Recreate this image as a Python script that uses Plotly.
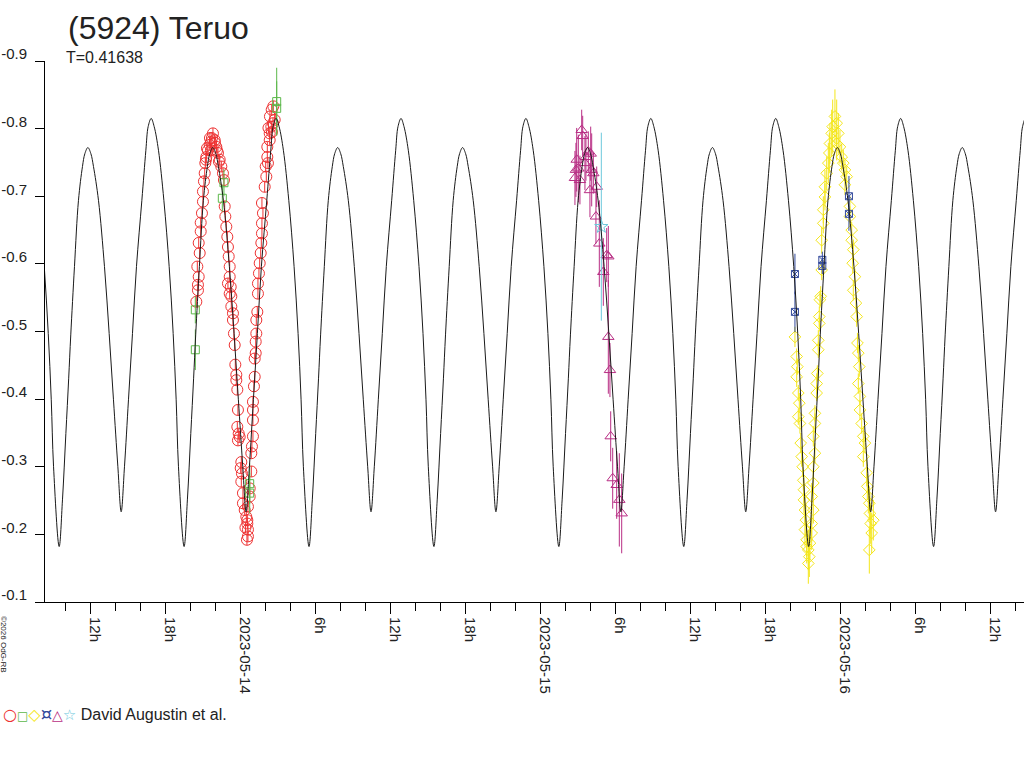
import pandas as pd
import plotly.graph_objects as go

# ---------------- data ----------------
BASE = pd.Timestamp("2023-05-14 00:00:00")   # hours below are counted from this instant (UT)
PERIOD_D = 0.41638
PERIOD_H = PERIOD_D * 24.0
EPOCH_MIN_H = 5.464                          # a deep minimum of the fitted curve

# one cycle of the fitted curve (hours after a deep minimum, magnitude)
fit_phase_h = [0.000, 0.264, 0.536, 0.760, 0.928, 1.224, 1.544, 1.864, 2.056, 2.296,
               2.536, 2.744, 3.144, 3.624, 4.000, 4.344, 4.696, 4.960, 5.224, 5.544,
               5.864, 6.184, 6.616, 6.936, 7.120, 7.360, 7.600, 7.944, 8.376, 8.800,
               9.120, 9.360, 9.544]
fit_mag = [-0.182, -0.251, -0.349, -0.430, -0.495, -0.596, -0.694, -0.744, -0.763, -0.772,
           -0.763, -0.744, -0.694, -0.596, -0.497, -0.399, -0.300, -0.2334, -0.300, -0.399,
           -0.497, -0.596, -0.694, -0.768, -0.803, -0.815, -0.803, -0.768, -0.694, -0.596,
           -0.497, -0.399, -0.300]

red_t = [-3.55, -3.42, -3.42, -3.36, -3.47, -3.28, -3.36, -3.20, -3.20, -3.10,
         -3.02, -3.02, -2.94, -2.88, -2.83, -2.78, -2.75, -2.70, -2.62, -2.48,
         -2.46, -2.38, -2.38, -2.30, -2.22, -2.08, -2.06, -1.95, -1.90, -1.82,
         -1.74, -1.68, -1.55, -1.42, -1.34, -1.28, -1.23, -1.15, -1.07, -1.02,
         -0.96, -0.88, -0.88, -1.02, -0.80, -0.88, -0.75, -0.75, -0.62, -0.62,
         -0.54, -0.48, -0.43, -0.35, -0.35, -0.27, -0.22, -0.27, -0.16, -0.08,
         -0.22, 0.05, 0.00, 0.10, 0.05, 0.18, 0.18, 0.32, 0.45, 0.53,
         0.58, 0.58, 0.38, 0.50, 0.53, 0.58, 0.72, 0.72, 0.85, 0.85,
         0.90, 0.98, 0.98, 0.98, 0.98, 1.06, 1.12, 1.12, 1.20, 1.20,
         1.25, 1.25, 1.33, 1.38, 1.38, 1.46, 1.52, 1.60, 1.65, 1.70,
         1.70, 1.78, 1.70, 1.92, 2.05, 2.00, 2.18, 2.13, 2.13, 2.32,
         2.32, 2.45, 2.58, 2.72, 2.34, 2.48, 2.61, 2.22, 2.50]
red_m = [-0.544, -0.561, -0.569, -0.581, -0.596, -0.616, -0.631, -0.648, -0.661, -0.675,
         -0.692, -0.707, -0.722, -0.734, -0.749, -0.754, -0.758, -0.771, -0.768, -0.776,
         -0.786, -0.780, -0.768, -0.786, -0.793, -0.783, -0.779, -0.773, -0.768, -0.764,
         -0.751, -0.754, -0.744, -0.734, -0.724, -0.685, -0.670, -0.655, -0.640, -0.625,
         -0.611, -0.596, -0.581, -0.571, -0.566, -0.556, -0.552, -0.537, -0.527, -0.517,
         -0.497, -0.480, -0.451, -0.436, -0.428, -0.414, -0.384, -0.359, -0.349, -0.344,
         -0.339, -0.307, -0.298, -0.290, -0.278, -0.261, -0.246, -0.236, -0.226, -0.216,
         -0.207, -0.197, -0.210, -0.192, -0.221, -0.241, -0.256, -0.268, -0.293, -0.320,
         -0.330, -0.345, -0.369, -0.384, -0.396, -0.419, -0.433, -0.460, -0.468, -0.485,
         -0.497, -0.517, -0.529, -0.556, -0.571, -0.586, -0.601, -0.616, -0.631, -0.645,
         -0.660, -0.675, -0.690, -0.714, -0.729, -0.744, -0.749, -0.758, -0.773, -0.783,
         -0.793, -0.803, -0.808, -0.813, -0.818, -0.828, -0.833, -0.801, -0.795]
red_err = 0.008

grn_t = [-3.63, -3.63, -1.34, -1.47, 0.72, 0.72, 2.88, 2.88]
grn_m = [-0.532, -0.473, -0.720, -0.697, -0.275, -0.261, -0.840, -0.830]
grn_e = [0.020, 0.030, 0.020, 0.020, 0.030, 0.030, 0.050, 0.040]

yel_t = [44.34, 44.48, 44.53, 44.48, 44.61, 44.69, 44.61, 44.74, 44.80, 44.88,
         44.96, 45.01, 45.06, 45.06, 45.14, 45.22, 45.14, 45.28, 45.41, 45.49,
         45.41, 45.28, 45.54,
         45.68, 45.68, 45.81, 45.68, 45.81, 45.81, 45.94, 45.81, 45.94, 45.94,
         46.08, 46.08, 46.13, 46.21, 46.21, 46.29, 46.29, 46.34, 46.40, 46.48,
         46.48, 46.61, 46.61, 46.74, 46.74, 46.88, 47.01, 47.09, 47.14, 47.28,
         47.36, 47.54, 47.68, 47.81, 47.68, 47.94, 48.08, 48.21, 48.34, 48.48,
         48.34,
         48.74, 48.74, 48.88, 48.88, 49.01, 48.96, 49.14, 49.01, 49.22, 49.28,
         49.34, 49.41, 49.49, 49.41, 49.54, 49.54, 49.68, 49.81, 49.94, 49.81,
         50.08, 50.13, 50.21, 50.29, 50.34, 50.40, 50.48, 50.29, 50.61]
yel_m = [-0.492, -0.463, -0.448, -0.433, -0.409, -0.394, -0.374, -0.364, -0.335, -0.315,
         -0.300, -0.280, -0.266, -0.251, -0.236, -0.221, -0.207, -0.192, -0.177, -0.167,
         -0.157, -0.182, -0.187,
         -0.202, -0.216, -0.236, -0.256, -0.276, -0.300, -0.320, -0.345, -0.364, -0.379,
         -0.409, -0.423, -0.438, -0.473, -0.487, -0.512, -0.522, -0.547, -0.552, -0.591,
         -0.635, -0.660, -0.680, -0.699, -0.714, -0.734, -0.749, -0.764, -0.778, -0.793,
         -0.803, -0.818, -0.808, -0.793, -0.778, -0.773, -0.758, -0.749, -0.739, -0.729,
         -0.717,
         -0.685, -0.670, -0.650, -0.635, -0.621, -0.601, -0.581, -0.561, -0.542, -0.522,
         -0.483, -0.468, -0.448, -0.423, -0.404, -0.384, -0.364, -0.345, -0.335, -0.315,
         -0.291, -0.271, -0.256, -0.246, -0.231, -0.216, -0.202, -0.177, -0.221]
yel_e = [0.015, 0.012, 0.012, 0.015, 0.012, 0.015, 0.012, 0.015, 0.015, 0.015,
         0.015, 0.015, 0.020, 0.020, 0.020, 0.025, 0.025, 0.025, 0.030, 0.030,
         0.030, 0.025, 0.025,
         0.025, 0.025, 0.020, 0.020, 0.020, 0.015, 0.015, 0.015, 0.015, 0.012,
         0.012, 0.015, 0.012, 0.012, 0.015, 0.012, 0.015, 0.012, 0.015, 0.015,
         0.020, 0.015, 0.020, 0.020, 0.025, 0.025, 0.030, 0.030, 0.030, 0.035,
         0.040, 0.040, 0.035, 0.030, 0.025, 0.025, 0.020, 0.020, 0.015, 0.015,
         0.015,
         0.015, 0.015, 0.012, 0.012, 0.015, 0.015, 0.012, 0.015, 0.012, 0.015,
         0.015, 0.012, 0.015, 0.015, 0.012, 0.015, 0.015, 0.015, 0.015, 0.015,
         0.020, 0.020, 0.025, 0.025, 0.030, 0.030, 0.030, 0.035, 0.030]

blu_t = [44.34, 44.34, 46.53, 46.53, 48.66, 48.66]
blu_m = [-0.585, -0.529, -0.606, -0.597, -0.700, -0.674]
blu_e = [0.030, 0.030, 0.012, 0.012, 0.030, 0.025]

mag_t = [27.28, 27.36, 26.88, 26.82, 26.74, 27.01, 27.14, 27.54, 27.62, 27.81,
         28.00, 28.08, 28.21, 27.94, 28.48, 28.42, 28.69, 29.28, 29.41, 29.01,
         29.41, 29.54, 29.60, 29.76, 30.08, 30.29, 30.48]
mag_m = [-0.798, -0.789, -0.754, -0.739, -0.727, -0.741, -0.724, -0.749, -0.758, -0.766,
         -0.763, -0.739, -0.734, -0.709, -0.714, -0.670, -0.630, -0.613, -0.611, -0.588,
         -0.492, -0.443, -0.345, -0.283, -0.273, -0.251, -0.231]
mag_e = [0.030, 0.030, 0.047, 0.040, 0.040, 0.050, 0.036, 0.040, 0.035, 0.030,
         0.040, 0.054, 0.030, 0.040, 0.030, 0.040, 0.064, 0.040, 0.045, 0.050,
         0.084, 0.040, 0.037, 0.045, 0.050, 0.069, 0.059]

cya_t = [28.85]
cya_m = [-0.655]
cya_e = [0.139]

x_range_h = [-15.656, 62.664]
major_tick_h = [-12, -6, 0, 6, 12, 18, 24, 30, 36, 42, 48, 54, 60]
major_tick_text = ["12h", "18h", "2023-05-14", "6h", "12h", "18h", "2023-05-15",
                   "6h", "12h", "18h", "2023-05-16", "6h", "12h"]
y_ticks = [-0.9, -0.8, -0.7, -0.6, -0.5, -0.4, -0.3, -0.2, -0.1]
y_tick_text = ["-0.9", "-0.8", "-0.7", "-0.6", "-0.5", "-0.4", "-0.3", "-0.2", "-0.1"]

# ---------------- build ----------------
def T(hours):
    return [BASE + pd.Timedelta(hours=h) for h in hours]

RED = "#ee3333"
GRN = "#5cb84a"
YEL = "#f4e61a"
BLU = "#334a9c"
MAG = "#b82e84"
CYA = "#6cc8dc"

fig = go.Figure()

def add_series(t, m, err, color, symbol, size):
    if isinstance(err, (int, float)):
        ey = dict(type="constant", value=err, color=color, thickness=1, width=0)
    else:
        ey = dict(type="data", array=err, color=color, thickness=1, width=0)
    fig.add_trace(go.Scatter(
        x=T(t), y=m, mode="markers",
        marker=dict(symbol=symbol, size=size, color=color, line=dict(width=1, color=color)),
        error_y=ey, hoverinfo="skip"))

add_series(red_t, red_m, red_err, RED, "circle-open", 11)
add_series(grn_t, grn_m, grn_e, GRN, "square-open", 8)
add_series(yel_t, yel_m, yel_e, YEL, "diamond-open", 9)
add_series(blu_t, blu_m, blu_e, BLU, "square-x-open", 7)
add_series(mag_t, mag_m, mag_e, MAG, "triangle-up-open", 10)
add_series(cya_t, cya_m, cya_e, CYA, "star-open", 10)

# fitted curve repeated with the period
curve_h, curve_m = [], []
for k in range(-3, 7):
    for ph, mg in zip(fit_phase_h, fit_mag):
        curve_h.append(EPOCH_MIN_H + k * PERIOD_H + ph)
        curve_m.append(mg)
fig.add_trace(go.Scatter(x=T(curve_h), y=curve_m, mode="lines",
                         line=dict(color="#1a1a1a", width=1, shape="spline", smoothing=1.0),
                         hoverinfo="skip"))

FONT = "Liberation Sans, Arial, sans-serif"
fig.update_layout(
    width=1024, height=768,
    margin=dict(l=45, r=0, t=61, b=166, pad=0),
    paper_bgcolor="white", plot_bgcolor="white",
    showlegend=False,
    font=dict(family=FONT, size=15, color="#222222"),
)
fig.update_xaxes(
    type="date", range=T(x_range_h),
    tickmode="array", tickvals=T(major_tick_h), ticktext=major_tick_text,
    tickangle=90, ticks="outside", ticklen=11, tickwidth=1, tickcolor="black",
    showline=True, linecolor="black", linewidth=1,
    showgrid=False, zeroline=False,
    minor=dict(ticks="outside", ticklen=8, tickwidth=1, tickcolor="black",
               dtick=2 * 3600 * 1000, tick0=BASE, showgrid=False),
    ticklabelshift=4, ticklabelstandoff=0,
    tickfont=dict(size=15, color="#222222"),
)
fig.update_yaxes(
    range=[-0.1, -0.9],
    tickmode="array", tickvals=y_ticks, ticktext=y_tick_text,
    ticks="outside", ticklen=9, tickwidth=1, tickcolor="black",
    showline=True, linecolor="black", linewidth=1,
    showgrid=False, zeroline=False,
    ticklabelshift=7, ticklabelstandoff=5,
    tickfont=dict(size=15, color="#222222"),
)

W, H0, H1 = 979.0, 61.0, 602.0
def px(x):
    return (x - 45.0) / W
def py(y):
    return (H1 - y) / (H1 - H0)

def glyph(ch, color, size):
    return f'<span style="font-family:DejaVu Sans;font-size:{size}px;color:{color}">{ch}</span>'

legend_txt = (glyph("○", RED, 16) + glyph("□", GRN, 12) + glyph("◇", YEL, 16)
              + glyph("¤", BLU, 18) + glyph("△", MAG, 14) + glyph("☆", CYA, 15)
              + ' David Augustin et al.')

fig.add_annotation(text="(5924) Teruo", xref="paper", yref="paper", x=px(66), y=py(28),
                   xanchor="left", yanchor="middle", showarrow=False,
                   font=dict(family=FONT, size=32, color="#222222"))
fig.add_annotation(text="T=0.41638", xref="paper", yref="paper", x=px(64), y=py(58),
                   xanchor="left", yanchor="middle", showarrow=False,
                   font=dict(family=FONT, size=16, color="#222222"))
fig.add_annotation(text="©2026 OdG-RB", xref="paper", yref="paper", x=px(4), y=py(644),
                   xanchor="center", yanchor="middle", showarrow=False, textangle=90,
                   font=dict(family=FONT, size=8, color="#222222"))
fig.add_annotation(text=legend_txt, xref="paper", yref="paper", x=px(1), y=py(713),
                   xanchor="left", yanchor="middle", showarrow=False,
                   font=dict(family=FONT, size=16, color="#222222"))

fig.write_html("out.html", config={"displayModeBar": False},
               post_script="document.body.style.margin='0';document.body.style.overflow='hidden';")
